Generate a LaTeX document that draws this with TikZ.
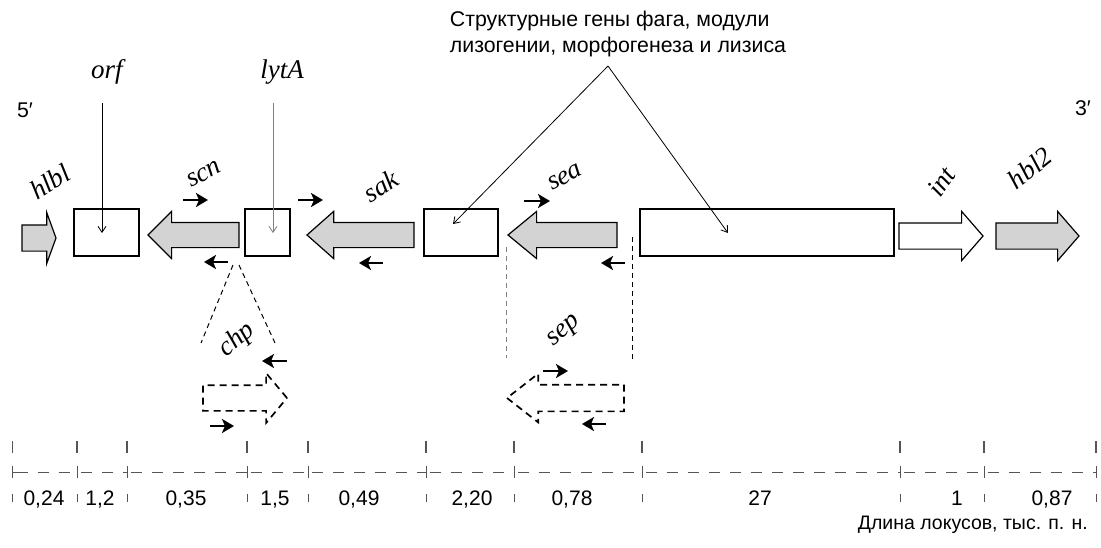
\documentclass[tikz,border=0pt]{standalone}
\usepackage{fontspec}
\setsansfont{Liberation Sans}
\newfontfamily\genefont{Liberation Serif}
\usetikzlibrary{shapes.arrows,arrows.meta}
\definecolor{genegray}{HTML}{D3D3D3}
\definecolor{tickgray}{HTML}{555555}
\begin{document}
\begin{tikzpicture}[x=1pt,y=-1pt,
  box/.style={draw, line width=1.2pt, inner sep=0pt, outer sep=0pt, fill=white},
  blk/.style={single arrow, draw, line width=1.2pt, inner xsep=0pt, inner ysep=12pt,
    single arrow head extend=11pt, outer sep=0pt, anchor=tip},
  gfill/.style={fill=genegray},
  dblk/.style={blk, line width=1.7pt, dash pattern=on 7pt off 5pt},
  ital/.style={font=\genefont\fontsize{27}{30}\selectfont\itshape, inner sep=1pt},
  sans/.style={font=\sffamily\fontsize{21.3}{26.5}\selectfont, inner sep=0pt},
  num/.style={font=\sffamily\fontsize{21}{25}\selectfont, inner sep=0pt, anchor=base},
  primer/.style={line width=2.8pt, -{Stealth[length=12pt,width=14pt,inset=3pt]}},
  thinarr/.style={line width=0.8pt, -{Straight Barb[length=6pt,width=8pt]}},
  thindash/.style={line width=1pt, dash pattern=on 5pt off 4pt},
  tick/.style={line width=1.2pt, draw=tickgray},
  smalltick/.style={line width=0.9pt, draw=tickgray}
]
\useasboundingbox (0,0) rectangle (1101,547);

% end labels
\node[sans] (five) at (25,110) {5′};
\node[sans] (three) at (1083,108) {3′};

% boxes
\node[box, minimum width=65pt, minimum height=47pt] (orfbox) at (106.5,232.5) {};
\node[box, minimum width=45pt, minimum height=47pt] (lytAbox) at (267.5,232.5) {};
\node[box, minimum width=74pt, minimum height=47pt] (box3) at (461,232.5) {};
\node[box, minimum width=254pt, minimum height=47pt] (bigbox) at (767,232.5) {};

% gene arrows
\node[blk, gfill, minimum height=34pt, inner ysep=12.5pt, single arrow head extend=12.5pt,
  single arrow tip angle=140] (hlbl) at (56,238) {};
\node[blk, gfill, minimum height=91pt, single arrow tip angle=90, shape border rotate=180] (scn) at (148,235) {};
\node[blk, gfill, minimum height=107pt, single arrow tip angle=83, shape border rotate=180] (sak) at (307,235) {};
\node[blk, gfill, minimum height=109pt, single arrow tip angle=79, shape border rotate=180] (sea) at (508,235) {};
\node[blk, fill=white, minimum height=84pt, inner ysep=12.5pt, single arrow head extend=11.5pt,
  single arrow tip angle=98] (int) at (983,236) {};
\node[blk, gfill, minimum height=83pt, inner ysep=12.5pt, single arrow head extend=11.5pt,
  single arrow tip angle=98] (hbl2) at (1079,236) {};

% dashed arrows
\node[dblk, minimum height=84pt, single arrow head extend=12pt, single arrow tip angle=100] (chp) at (287,398) {};
\node[dblk, minimum height=117pt, inner ysep=12.5pt, single arrow head extend=11pt,
  single arrow tip angle=76, shape border rotate=180] (sep) at (507,398) {};

% gene labels
\node[ital] (orf) at (107,72) {orf};
\node[ital] (lytA) at (282,72) {lytA};
\node[ital, rotate=32] (hlblL) at (50,182) {hlbl};
\node[ital, rotate=28] (scnL) at (204,174) {scn};
\node[ital, rotate=32] (sakL) at (381,186) {sak};
\node[ital, rotate=28] (seaL) at (565,177) {sea};
\node[ital, rotate=55] (intL) at (941,182) {int};
\node[ital, rotate=38] (hbl2L) at (1030,168) {hbl2};
\node[ital, rotate=40] (chpL) at (237,340) {chp};
\node[ital, rotate=40] (sepL) at (565,332) {sep};

% pointer lines
\coordinate (orfTop) at (102,103);
\coordinate (orfEnd) at (102,233);
\draw[thinarr] (orfTop) -- (orfEnd);
\coordinate (lytATop) at (273,103);
\coordinate (lytAEnd) at (273,233);
\draw[thinarr, draw=gray] (lytATop) -- (lytAEnd);

\node[sans, align=left] (struct) at (618,34) {Структурные гены фага, модули\\лизогении, морфогенеза и лизиса};
\coordinate (apex) at (608,66);
\coordinate (box3End) at (453,224);
\coordinate (bigEnd) at (728,233);
\draw[thinarr] (apex) -- (box3End);
\draw[thinarr] (apex) -- (bigEnd);

% dashed guide lines
\draw[thindash] (233,265) -- (201,343);
\draw[thindash] (239,265) -- (275,343);
\draw[thindash, draw=gray] (506,247) -- (506,358);
\draw[thindash] (632,237) -- (632,360);

% primers
\draw[primer] (183,200) -- (208,200);
\draw[primer] (228,262) -- (204,262);
\draw[primer] (298,200) -- (323,200);
\draw[primer] (383,263) -- (359,263);
\draw[primer] (524,201) -- (550,201);
\draw[primer] (625,263) -- (601,263);
\draw[primer] (287,361) -- (262,361);
\draw[primer] (210,426) -- (234,426);
\draw[primer] (543,371) -- (568,371);
\draw[primer] (606,424) -- (582,424);

% scale
\foreach \x in {12.5,77,127,247,308,426,514,642,900,984,1096} {
  \draw[tick] (\x,441) -- (\x,453);
  \draw[smalltick] (\x,466) -- (\x,478);
  \draw[smalltick] (\x,494) -- (\x,502);
}
\foreach \a/\b in {12.5/77,77/127,127/247,247/308,308/426,426/514,514/642,642/900,900/984,984/1096} {
  \draw[smalltick, dash pattern=on 11pt off 10pt] ([xshift=4pt]\a,472) -- (\b,472);
}
\draw[smalltick] (12.5,472) -- (16.5,472);
\foreach \c/\t in {44/{0,24},100/{1,2},186/{0,35},275/{1,5},359/{0,49},472/{2,20},572/{0,78},760/{27},957/{1},1052/{0,87}} {
  \node[num] at (\c,505) {\t};
}
\node[sans, font=\sffamily\fontsize{19.5}{23}\selectfont, anchor=east] (len) at (1088,525) {Длина локусов, тыс. п. н.};
\end{tikzpicture}
\end{document}
